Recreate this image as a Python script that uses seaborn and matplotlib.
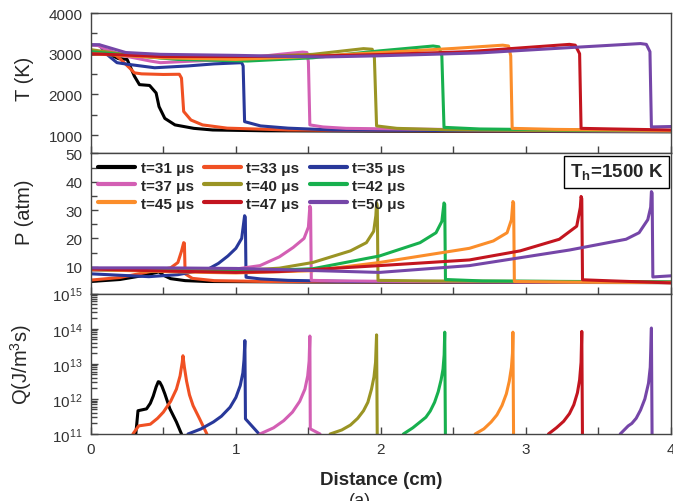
import numpy as np
import pandas as pd
import matplotlib
matplotlib.use("Agg")
import matplotlib.pyplot as plt
import seaborn as sns
from matplotlib.ticker import MultipleLocator, FuncFormatter

# time labels and colours of the nine profiles
times = [31, 33, 35, 37, 40, 42, 45, 47, 50]
colors = ['#000000', '#f05023', '#28389a', '#d35fb4', '#9a9424',
          '#17b04e', '#fb8d2a', '#c3151f', '#7546a8']

# temperature (K) vs distance (cm)
temp = {
    31: [(0, 2990), (0.12, 3000), (0.19, 2880), (0.25, 2860), (0.30, 2450), (0.335, 2240), (0.405, 2220),
         (0.45, 2035), (0.47, 1700), (0.51, 1410), (0.58, 1250), (0.71, 1165), (0.84, 1125), (1.2, 1105),
         (2.0, 1095), (3.0, 1090), (4.0, 1080)],
    33: [(0, 3030), (0.08, 3060), (0.13, 3080), (0.2, 2880), (0.27, 2640), (0.30, 2530), (0.35, 2505),
         (0.5, 2490), (0.61, 2495), (0.625, 2400), (0.64, 1580), (0.69, 1370), (0.77, 1250), (0.94, 1170),
         (1.36, 1125), (2.0, 1110), (3.0, 1100), (4.0, 1090)],
    35: [(0, 3220), (0.06, 3210), (0.11, 2985), (0.18, 2780), (0.255, 2740), (0.44, 2655), (0.67, 2700),
         (0.85, 2750), (1.04, 2780), (1.05, 2700), (1.06, 1330), (1.17, 1225), (1.36, 1170), (1.67, 1125),
         (2.5, 1110), (4.0, 1090)],
    37: [(0, 3220), (0.05, 3200), (0.1, 3110), (0.24, 2940), (0.41, 2820), (0.48, 2780), (0.71, 2820),
         (0.98, 2860), (1.3, 2985), (1.46, 3040), (1.49, 3030), (1.50, 2800), (1.51, 1250), (1.6, 1200),
         (1.76, 1165), (2.1, 1150), (3.0, 1120), (4.0, 1100)],
    40: [(0, 3100), (0.2, 3000), (0.48, 2900), (0.98, 2900), (1.53, 2985), (1.88, 3125), (1.94, 3110),
         (1.955, 2900), (1.97, 1225), (2.11, 1165), (2.45, 1130), (3.0, 1115), (4.0, 1100)],
    42: [(0, 3050), (0.3, 2950), (0.6, 2860), (1.08, 2820), (1.53, 2900), (1.99, 3070), (2.36, 3190),
         (2.40, 3170), (2.42, 2950), (2.435, 1190), (2.68, 1150), (3.2, 1130), (4.0, 1110)],
    45: [(0, 3000), (0.5, 2900), (1.0, 2860), (1.5, 2930), (2.0, 3030), (2.5, 3130), (2.84, 3210),
         (2.88, 3190), (2.895, 2950), (2.905, 1165), (3.2, 1140), (4.0, 1110)],
    47: [(0, 3000), (0.5, 2930), (1.0, 2930), (1.5, 2940), (2.0, 2980), (2.6, 3050), (3.30, 3230),
         (3.34, 3210), (3.37, 3000), (3.38, 1165), (3.6, 1150), (4.0, 1125)],
    50: [(0, 3220), (0.06, 3220), (0.24, 3030), (0.48, 2985), (1.0, 2960), (1.6, 2920), (2.0, 2950),
         (2.68, 3020), (3.3, 3150), (3.79, 3250), (3.83, 3230), (3.855, 3050), (3.865, 1200), (4.0, 1210)],
}

# pressure (atm) vs distance (cm)
pres = {
    31: [(0, 4.8), (0.2, 5.5), (0.35, 6.8), (0.44, 7.8), (0.47, 8.2), (0.5, 7.0), (0.55, 5.8), (0.65, 5.1),
         (0.8, 4.8), (1.5, 4.6), (4.0, 4.4)],
    33: [(0, 5.3), (0.2, 6.2), (0.44, 8.6), (0.55, 9.6), (0.6, 11.5), (0.625, 15.5), (0.64, 18.5),
         (0.645, 18.3), (0.65, 7.5), (0.7, 5.9), (0.85, 5.1), (1.2, 4.8), (4.0, 4.5)],
    35: [(0, 7.5), (0.2, 7.0), (0.4, 6.5), (0.6, 7.2), (0.81, 9.2), (0.88, 11.2), (0.945, 13.8), (1.0, 16.5),
         (1.04, 20.0), (1.055, 26.0), (1.06, 28.0), (1.065, 27.5), (1.07, 6.3), (1.17, 5.7), (1.36, 5.2),
         (1.8, 4.8), (4.0, 4.5)],
    37: [(0, 8.8), (0.5, 8.8), (1.0, 9.2), (1.166, 10.4), (1.3, 13.5), (1.395, 16.8), (1.47, 20.0),
         (1.5, 24.0), (1.51, 31.4), (1.515, 30.5), (1.52, 5.2), (1.7, 5.0), (2.2, 4.8), (4.0, 4.5)],
    40: [(0, 9.0), (0.5, 8.8), (1.0, 8.6), (1.3, 9.5), (1.53, 11.5), (1.79, 15.6), (1.9, 18.5), (1.95, 22.5),
         (1.965, 28.0), (1.97, 32.5), (1.975, 31.5), (1.98, 5.2), (2.3, 5.0), (4.0, 4.6)],
    42: [(0, 9.0), (0.5, 8.5), (1.0, 8.3), (1.53, 9.3), (1.99, 13.8), (2.27, 18.5), (2.38, 22.0),
         (2.42, 26.0), (2.435, 32.5), (2.44, 32.0), (2.445, 5.5), (2.7, 5.0), (4.0, 4.6)],
    45: [(0, 9.0), (0.5, 8.3), (1.0, 7.8), (1.53, 8.6), (1.99, 11.5), (2.3, 14.0), (2.61, 16.5),
         (2.775, 19.1), (2.87, 22.0), (2.9, 26.6), (2.91, 33.0), (2.915, 32.5), (2.92, 4.8), (3.3, 4.6),
         (4.0, 4.4)],
    47: [(0, 9.2), (0.5, 8.5), (1.0, 8.0), (1.3, 8.3), (1.99, 10.4), (2.61, 12.4), (2.96, 15.6),
         (3.23, 19.7), (3.35, 24.3), (3.375, 31.0), (3.38, 34.8), (3.385, 34.0), (3.39, 5.4), (3.6, 5.0),
         (4.0, 4.3)],
    50: [(0, 9.6), (0.5, 9.6), (1.0, 9.4), (1.3, 9.0), (1.99, 8.0), (2.61, 10.4), (3.3, 15.9),
         (3.69, 19.7), (3.78, 22.0), (3.84, 26.6), (3.86, 31.0), (3.865, 36.5), (3.87, 36.0), (3.875, 6.4),
         (4.0, 6.8)],
}

# heat release Q (J/m^3 s) vs distance (cm)
heat = {
    31: [(0.31, 1e11), (0.325, 4.6e11), (0.384, 5.2e11), (0.41, 7.5e11), (0.43, 1.2e12), (0.45, 2.2e12),
         (0.465, 3.1e12), (0.475, 3.0e12), (0.49, 2.3e12), (0.51, 1.4e12), (0.545, 5.2e11), (0.59, 2.2e11),
         (0.625, 1e11)],
    33: [(0.29, 1e11), (0.33, 1.7e11), (0.41, 1.9e11), (0.46, 2.8e11), (0.50, 4.2e11), (0.55, 8.5e11),
         (0.59, 1.9e12), (0.615, 4.5e12), (0.63, 1.1e13), (0.635, 1.7e13), (0.645, 8e12), (0.66, 3.2e12),
         (0.68, 1.3e12), (0.705, 6.4e11), (0.75, 2.7e11), (0.80, 1e11)],
    35: [(0.67, 1e11), (0.76, 1.4e11), (0.845, 2.2e11), (0.9, 3.2e11), (0.96, 5.8e11), (1.0, 1.1e12),
         (1.03, 2.4e12), (1.048, 5.5e12), (1.056, 1.3e13), (1.062, 4.6e13), (1.066, 2.7e11), (1.16, 1e11)],
    37: [(1.166, 1e11), (1.26, 1.5e11), (1.33, 2.4e11), (1.39, 4.2e11), (1.44, 8.5e11), (1.476, 1.9e12),
         (1.495, 4.5e12), (1.505, 1.2e13), (1.51, 6.2e13), (1.513, 1.4e11), (1.58, 1e11)],
    40: [(1.65, 1e11), (1.73, 1.3e11), (1.79, 1.8e11), (1.84, 2.8e11), (1.88, 4.6e11), (1.91, 8e11),
         (1.935, 1.9e12), (1.952, 4.2e12), (1.963, 1.1e13), (1.97, 6.7e13), (1.975, 5e10)],
    42: [(2.155, 1e11), (2.22, 1.5e11), (2.27, 2.2e11), (2.31, 3e11), (2.34, 4.5e11), (2.37, 8e11),
         (2.395, 1.6e12), (2.415, 3.5e12), (2.428, 7e12), (2.436, 1.8e13), (2.44, 8e13), (2.445, 5e10)],
    45: [(2.65, 1e11), (2.71, 1.4e11), (2.76, 2.2e11), (2.8, 3.5e11), (2.835, 6.5e11), (2.865, 1.4e12),
         (2.885, 3.2e12), (2.9, 8e12), (2.907, 2e13), (2.91, 8e13), (2.915, 5e10)],
    47: [(3.155, 1e11), (3.21, 1.5e11), (3.26, 2.3e11), (3.3, 3.8e11), (3.33, 6.8e11), (3.355, 1.5e12),
         (3.37, 3.5e12), (3.38, 1.1e13), (3.385, 8.4e13), (3.39, 5e10)],
    50: [(3.65, 1e11), (3.705, 1.7e11), (3.73, 2.0e11), (3.76, 2.8e11), (3.79, 4.8e11), (3.82, 1e12),
         (3.845, 2.8e12), (3.857, 8e12), (3.865, 1.05e14), (3.87, 5e10)],
}


def frame(d):
    rows = [(f't={t} μs', x, y) for t, pts in d.items() for x, y in pts]
    return pd.DataFrame(rows, columns=['t', 'x', 'y'])


sns.set_theme(style='ticks')
plt.rcParams['font.family'] = ['Liberation Sans', 'DejaVu Sans']
plt.rcParams['xtick.direction'] = 'in'
plt.rcParams['ytick.direction'] = 'in'
plt.rcParams['axes.edgecolor'] = '#444444'
plt.rcParams['axes.linewidth'] = 1.0

labels = [f't={t} μs' for t in times]
pal = dict(zip(labels, colors))

fig, axs = plt.subplots(3, 1, sharex=True, figsize=(6.73, 5.02), dpi=100,
                        gridspec_kw=dict(hspace=0))
fig.subplots_adjust(left=0.135, right=0.997, top=0.972, bottom=0.1335)

axs[2].set_yscale('log')
for ax, d in zip(axs, [temp, pres, heat]):
    sns.lineplot(data=frame(d), x='x', y='y', hue='t', hue_order=labels, palette=pal,
                 sort=False, estimator=None, lw=2.2, ax=ax, legend=(ax is axs[1]))

axs[0].set_ylim(550, 4000)
axs[0].yaxis.set_major_locator(MultipleLocator(1000))
axs[0].yaxis.set_minor_locator(MultipleLocator(500))
axs[1].set_ylim(0.5, 50)
axs[1].yaxis.set_major_locator(MultipleLocator(10))
axs[1].yaxis.set_minor_locator(MultipleLocator(5))
axs[2].set_ylim(1e11, 1e15)

axs[2].set_xlim(0, 4)
axs[2].xaxis.set_major_locator(MultipleLocator(0.5))
axs[2].xaxis.set_major_formatter(FuncFormatter(lambda v, p: f'{v:.0f}' if abs(v - round(v)) < 1e-6 else ''))

for ax in axs:
    ax.tick_params(which='both', length=5, width=1, color='#444444', labelsize=11,
                   labelcolor='#333333', pad=6)
    ax.tick_params(axis='y', which='minor', length=4)
    ax.set_xlabel('')

axs[0].set_ylabel('T (K)', fontsize=14.5)
axs[1].set_ylabel('P (atm)', fontsize=14.5)
axs[2].set_ylabel(r'Q(J/m$^\mathregular{3}$s)', fontsize=14.5)
axs[0].yaxis.set_label_coords(-0.098, 0.54)
axs[1].yaxis.set_label_coords(-0.098, 0.59)
axs[2].yaxis.set_label_coords(-0.098, 0.5)

axs[2].set_xlabel('Distance (cm)', fontsize=13.5, fontweight='bold')
axs[2].xaxis.set_label_coords(0.5, -0.265)

# legend in rows: 31 33 35 / 37 40 42 / 45 47 50
handles, labs = axs[1].get_legend_handles_labels()
axs[1].get_legend().remove()
order = [0, 3, 6, 1, 4, 7, 2, 5, 8]
leg = axs[1].legend([handles[i] for i in order], [labs[i] for i in order], ncol=3,
                    loc='upper left', bbox_to_anchor=(0, 1), borderaxespad=0.1, frameon=False,
                    prop={'weight': 'bold', 'size': 11}, handlelength=2.4, handletextpad=0.35,
                    columnspacing=0.7, labelspacing=0.25)
for h in leg.get_lines():
    h.set_linewidth(3)

axs[1].text(0.987, 0.94, r'T$_\mathregular{h}$=1500 K', transform=axs[1].transAxes, ha='right', va='top',
            fontsize=13.5, fontweight='bold',
            bbox=dict(boxstyle='square,pad=0.3', fc='white', ec='black', lw=1))

fig.text(0.535, 0.0, '(a)', ha='center', va='center', fontsize=13)

plt.savefig('out.png', dpi=100)
